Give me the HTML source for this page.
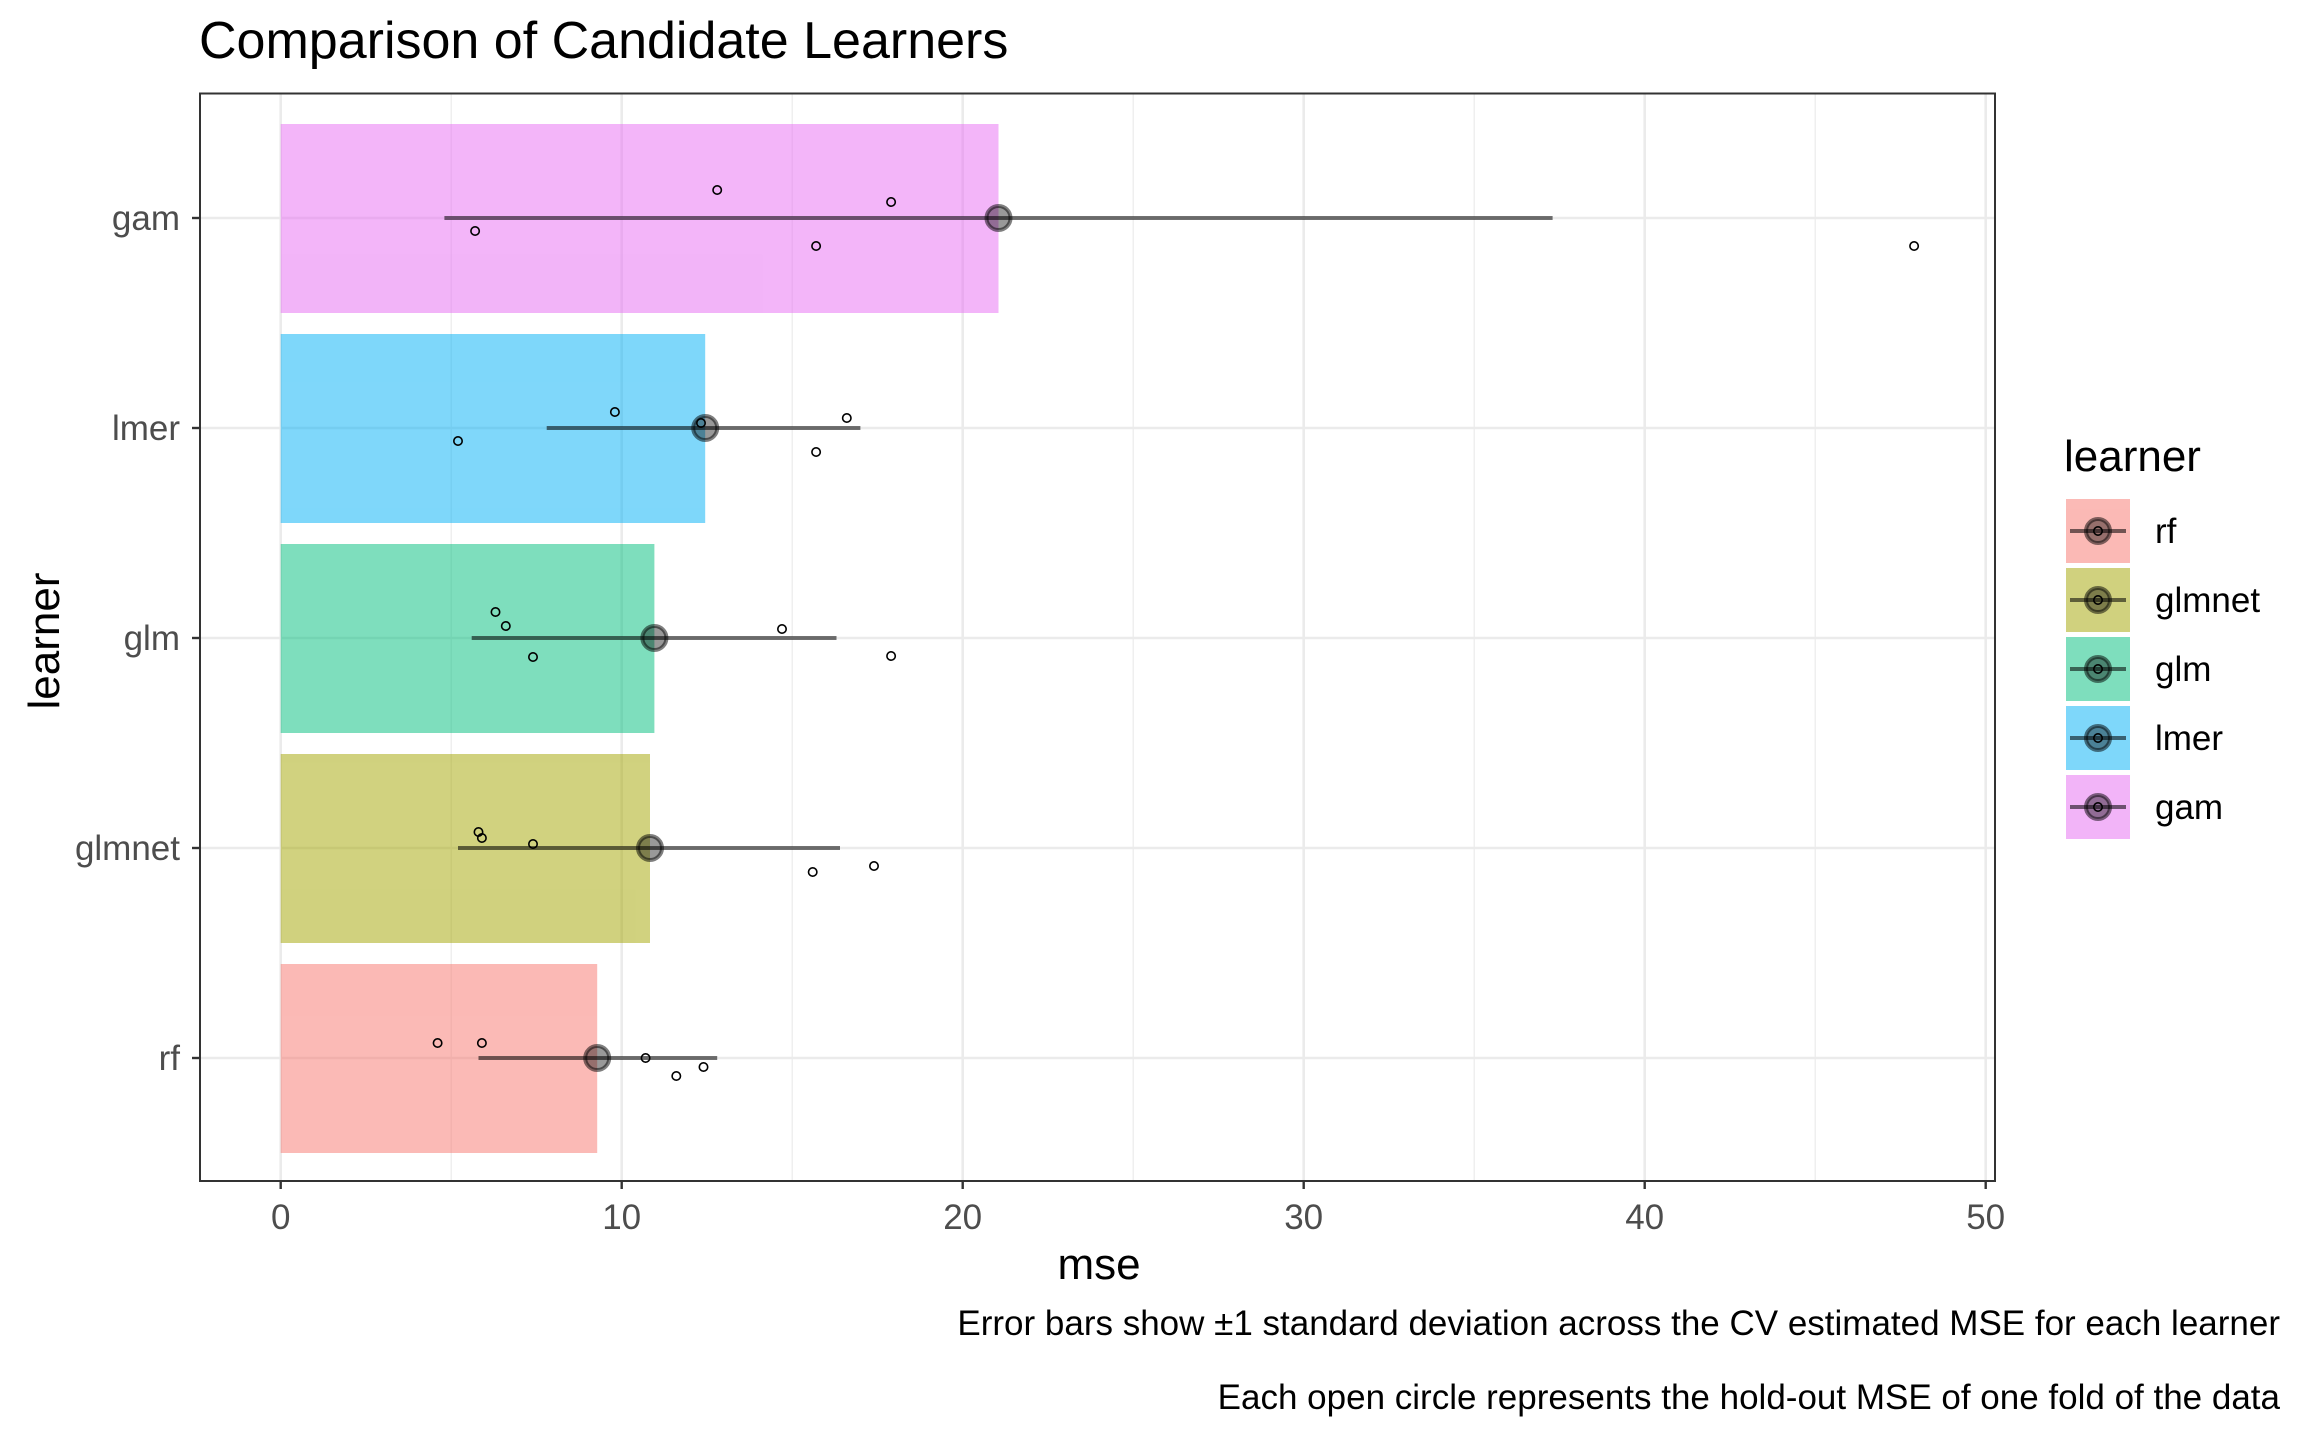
<!DOCTYPE html>
<html><head><meta charset="utf-8"><style>body{margin:0;background:#fff}svg{display:block}text{font-family:"Liberation Sans",Arial,sans-serif}</style></head>
<body>
<svg width="2304" height="1440" viewBox="0 0 2304 1440" xmlns="http://www.w3.org/2000/svg">
<rect width="2304" height="1440" fill="#fff"/>
<text x="199" y="58" font-size="52" fill="#000">Comparison of Candidate Learners</text>
<g stroke="#ebebeb" stroke-width="1.2">
<line x1="451.2" y1="93" x2="451.2" y2="1181"/><line x1="792.2" y1="93" x2="792.2" y2="1181"/><line x1="1133.2" y1="93" x2="1133.2" y2="1181"/><line x1="1474.2" y1="93" x2="1474.2" y2="1181"/><line x1="1815.2" y1="93" x2="1815.2" y2="1181"/>
</g>
<g stroke="#ebebeb" stroke-width="2.6">
<line x1="280.7" y1="93" x2="280.7" y2="1181"/><line x1="621.7" y1="93" x2="621.7" y2="1181"/><line x1="962.7" y1="93" x2="962.7" y2="1181"/><line x1="1303.7" y1="93" x2="1303.7" y2="1181"/><line x1="1644.7" y1="93" x2="1644.7" y2="1181"/><line x1="1985.7" y1="93" x2="1985.7" y2="1181"/>
<line x1="200" y1="218" x2="1995" y2="218"/><line x1="200" y1="428" x2="1995" y2="428"/><line x1="200" y1="638" x2="1995" y2="638"/><line x1="200" y1="848" x2="1995" y2="848"/><line x1="200" y1="1058" x2="1995" y2="1058"/>
</g>
<g opacity="0.5">
<rect x="280.7" y="124" width="717.8" height="189" fill="#E76BF3"/>
<rect x="280.7" y="334" width="424.5" height="189" fill="#00B0F6"/>
<rect x="280.7" y="544" width="373.7" height="189" fill="#00BF7D"/>
<rect x="280.7" y="754" width="369.3" height="189" fill="#A3A500"/>
<rect x="280.7" y="964" width="316.5" height="189" fill="#F8766D"/>
</g>
<g stroke="#000" stroke-opacity="0.55" stroke-width="4">
<line x1="444.4" y1="218" x2="1552.6" y2="218"/>
<line x1="546.7" y1="428" x2="860.4" y2="428"/>
<line x1="471.7" y1="638" x2="836.5" y2="638"/>
<line x1="458" y1="848" x2="840" y2="848"/>
<line x1="478.5" y1="1058" x2="717.2" y2="1058"/>
</g>
<g fill="#000" fill-opacity="0.4" stroke="#000" stroke-opacity="0.5" stroke-width="4">
<circle cx="998.5" cy="218" r="12"/><circle cx="705.2" cy="428" r="12"/><circle cx="654.4" cy="638" r="12"/><circle cx="650" cy="848" r="12"/><circle cx="597.2" cy="1058" r="12"/>
</g>
<g fill="none" stroke="#000" stroke-width="1.6">
<circle cx="717.2" cy="190" r="4.2"/><circle cx="891.1" cy="202" r="4.2"/><circle cx="475.1" cy="231" r="4.2"/><circle cx="816.1" cy="246" r="4.2"/><circle cx="1914.1" cy="246" r="4.2"/>
<circle cx="614.9" cy="412" r="4.2"/><circle cx="846.8" cy="418" r="4.2"/><circle cx="458" cy="441" r="4.2"/><circle cx="816.1" cy="452" r="4.2"/><circle cx="701" cy="423" r="4.2"/>
<circle cx="495.5" cy="612" r="4.2"/><circle cx="505.8" cy="626" r="4.2"/><circle cx="533" cy="657" r="4.2"/><circle cx="782" cy="629" r="4.2"/><circle cx="891.1" cy="656" r="4.2"/>
<circle cx="478.5" cy="832" r="4.2"/><circle cx="481.9" cy="838" r="4.2"/><circle cx="533" cy="844" r="4.2"/><circle cx="812.7" cy="872" r="4.2"/><circle cx="874" cy="866" r="4.2"/>
<circle cx="437.6" cy="1043" r="4.2"/><circle cx="481.9" cy="1043" r="4.2"/><circle cx="645.6" cy="1058" r="4.2"/><circle cx="703.5" cy="1067" r="4.2"/><circle cx="676.3" cy="1076" r="4.2"/>
</g>
<rect x="200" y="93.5" width="1795" height="1087.5" fill="none" stroke="#333" stroke-width="2"/>
<g stroke="#333" stroke-width="2.4">
<line x1="192" y1="218" x2="200" y2="218"/><line x1="192" y1="428" x2="200" y2="428"/><line x1="192" y1="638" x2="200" y2="638"/><line x1="192" y1="848" x2="200" y2="848"/><line x1="192" y1="1058" x2="200" y2="1058"/>
<line x1="280.7" y1="1181" x2="280.7" y2="1189"/><line x1="621.7" y1="1181" x2="621.7" y2="1189"/><line x1="962.7" y1="1181" x2="962.7" y2="1189"/><line x1="1303.7" y1="1181" x2="1303.7" y2="1189"/><line x1="1644.7" y1="1181" x2="1644.7" y2="1189"/><line x1="1985.7" y1="1181" x2="1985.7" y2="1189"/>
</g>
<g font-size="35" fill="#4d4d4d" text-anchor="end">
<text x="180" y="230">gam</text><text x="180" y="440">lmer</text><text x="180" y="650">glm</text><text x="180" y="860">glmnet</text><text x="180" y="1070">rf</text>
</g>
<g font-size="35" fill="#4d4d4d" text-anchor="middle">
<text x="280.7" y="1229">0</text><text x="621.7" y="1229">10</text><text x="962.7" y="1229">20</text><text x="1303.7" y="1229">30</text><text x="1644.7" y="1229">40</text><text x="1985.7" y="1229">50</text>
</g>
<text x="1099" y="1279" font-size="44" text-anchor="middle">mse</text>
<text x="0" y="0" font-size="44" text-anchor="middle" transform="translate(59,641) rotate(-90)">learner</text>
<g font-size="35" text-anchor="end">
<text x="2280" y="1335">Error bars show ±1 standard deviation across the CV estimated MSE for each learner</text>
<text x="2280" y="1409">Each open circle represents the hold-out MSE of one fold of the data</text>
</g>
<text x="2064" y="471" font-size="44">learner</text>
<g opacity="0.5">
<rect x="2066" y="499" width="64" height="64" fill="#F8766D"/>
<rect x="2066" y="568" width="64" height="64" fill="#A3A500"/>
<rect x="2066" y="637" width="64" height="64" fill="#00BF7D"/>
<rect x="2066" y="706" width="64" height="64" fill="#00B0F6"/>
<rect x="2066" y="775" width="64" height="64" fill="#E76BF3"/>
</g>
<g stroke="#000" stroke-opacity="0.55" stroke-width="4">
<line x1="2070" y1="531" x2="2126" y2="531"/><line x1="2070" y1="600" x2="2126" y2="600"/><line x1="2070" y1="669" x2="2126" y2="669"/><line x1="2070" y1="738" x2="2126" y2="738"/><line x1="2070" y1="807" x2="2126" y2="807"/>
</g>
<g fill="#000" fill-opacity="0.4" stroke="#000" stroke-opacity="0.5" stroke-width="4">
<circle cx="2098" cy="531" r="12"/><circle cx="2098" cy="600" r="12"/><circle cx="2098" cy="669" r="12"/><circle cx="2098" cy="738" r="12"/><circle cx="2098" cy="807" r="12"/>
</g>
<g fill="none" stroke="#000" stroke-width="1.6">
<circle cx="2098" cy="531" r="4.2"/><circle cx="2098" cy="600" r="4.2"/><circle cx="2098" cy="669" r="4.2"/><circle cx="2098" cy="738" r="4.2"/><circle cx="2098" cy="807" r="4.2"/>
</g>
<g font-size="35" fill="#000">
<text x="2155" y="543">rf</text><text x="2155" y="612">glmnet</text><text x="2155" y="681">glm</text><text x="2155" y="750">lmer</text><text x="2155" y="819">gam</text>
</g>
</svg>
</body></html>
